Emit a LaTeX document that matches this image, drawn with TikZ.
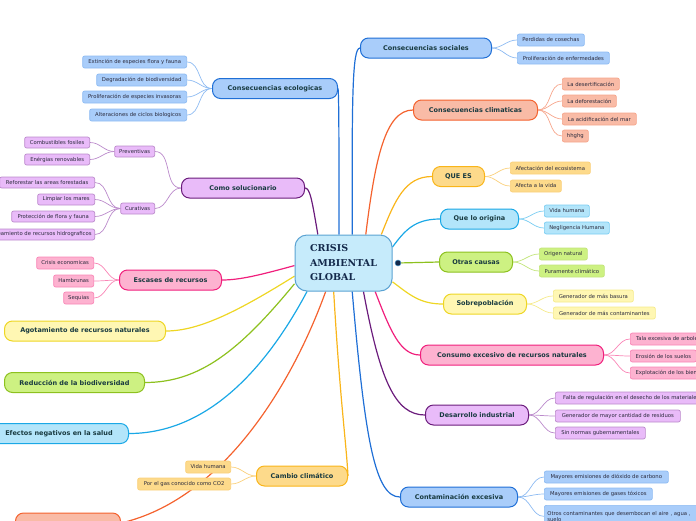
\documentclass[tikz,border=0pt]{standalone}
\usepackage{fontspec}
\setmainfont{DejaVu Sans}
\newfontfamily\titlefont{DejaVu Serif}
\usetikzlibrary{backgrounds}
\definecolor{blueF}{HTML}{A9CDFA}\definecolor{blueD}{HTML}{1F6FD6}\definecolor{blueL}{HTML}{8DBBF2}
\definecolor{salF}{HTML}{F9BBA6}\definecolor{salD}{HTML}{F4622E}\definecolor{salL}{HTML}{F6A58B}
\definecolor{orF}{HTML}{FDDA8B}\definecolor{orD}{HTML}{F9B51A}\definecolor{orL}{HTML}{FAD07A}
\definecolor{skyF}{HTML}{B3E5FA}\definecolor{skyD}{HTML}{1AA8E6}\definecolor{skyL}{HTML}{7ACDF2}
\definecolor{grF}{HTML}{CDF182}\definecolor{grD}{HTML}{8DC11F}\definecolor{grL}{HTML}{C2E47A}
\definecolor{yeF}{HTML}{FFF7B3}\definecolor{yeD}{HTML}{EED624}\definecolor{yeL}{HTML}{F5EA8A}
\definecolor{pkF}{HTML}{FDB2D0}\definecolor{pkD}{HTML}{F01F7C}\definecolor{pkL}{HTML}{F985B6}
\definecolor{puF}{HTML}{E9BBF9}\definecolor{puD}{HTML}{6B1C7C}\definecolor{puL}{HTML}{BB8ACB}
\definecolor{cenF}{HTML}{C6EBFB}\definecolor{cenD}{HTML}{5BA3D3}
\definecolor{maintext}{HTML}{183A40}\definecolor{leaftext}{HTML}{2A2A3C}\definecolor{titletext}{HTML}{13294B}
\tikzset{
  mainbox/.style 2 args={fill=#1, draw=#2, line width=1pt, rounded corners=8pt, minimum height=20pt, inner sep=0pt, font=\bfseries\fontsize{6.5}{8}\selectfont, text=maintext},
  leafbox/.style 2 args={fill=#1, draw=#2, line width=0.7pt, rounded corners=2pt, minimum height=12pt, inner sep=0pt, font=\fontsize{5.3}{6.3}\selectfont, text=leaftext},
  mainlink/.style={line width=1.2pt, draw=#1},
  leaflink/.style={line width=0.7pt, draw=#1},
}
\begin{document}
\begin{tikzpicture}[x=1pt,y=-1pt]
\useasboundingbox (0,0) rectangle (696,520);
% centre
\node[fill=cenF, draw=cenD, line width=1pt, rounded corners=12pt, minimum width=97pt, minimum height=56pt, inner sep=0pt,
      align=left, font=\titlefont\bfseries\fontsize{9.5}{14.5}\selectfont, text=titletext] (c) at (343.5,263) {CRISIS\\AMBIENTAL\\GLOBAL};
\node[circle, fill=titletext, draw=cenD, line width=0.5pt, minimum size=6pt, inner sep=0pt] (icon) at (398,263) {};
% right main
\node[mainbox={blueF}{blueD}, anchor=west, minimum width=131pt] (soc) at (360,48) {Consecuencias sociales};
\node[mainbox={salF}{salD}, anchor=west, minimum width=124pt] (clim) at (413,110) {Consecuencias climaticas};
\node[mainbox={orF}{orD}, anchor=west, minimum width=52pt] (quees) at (432,176.5) {QUE ES};
\node[mainbox={skyF}{skyD}, anchor=west, minimum width=78pt] (orig) at (440,219) {Que lo origina};
\node[mainbox={grF}{grD}, anchor=west, minimum width=73pt] (otras) at (439,262) {Otras causas};
\node[mainbox={yeF}{yeD}, anchor=west, minimum width=83pt] (sobre) at (443,304) {Sobrepoblación};
\node[mainbox={pkF}{pkD}, anchor=west, minimum width=183pt] (consumo) at (420,355) {Consumo excesivo de recursos naturales};
\node[mainbox={puF}{puD}, anchor=west, minimum width=103pt] (desa) at (425,415) {Desarrollo industrial};
\node[mainbox={blueF}{blueD}, anchor=west, minimum width=117pt] (conta) at (400,497) {Contaminación excesiva};
% left main
\node[mainbox={blueF}{blueD}, anchor=east, minimum width=125pt] (eco) at (338,88.5) {Consecuencias ecologicas};
\node[mainbox={puF}{puD}, anchor=east, minimum width=123pt] (como) at (305,188) {Como solucionario};
\node[mainbox={pkF}{pkD}, anchor=east, minimum width=102pt] (esc) at (222,280) {Escases de recursos};
\node[mainbox={yeF}{yeD}, anchor=east, minimum width=161pt] (agot) at (166,331) {Agotamiento de recursos naturales};
\node[mainbox={grF}{grD}, anchor=east, minimum width=140pt] (redu) at (145,382.5) {Reducción de la biodiversidad};
\node[mainbox={skyF}{skyD}, anchor=east, minimum width=139pt] (efec) at (129,433.5) {Efectos negativos en la salud};
\node[mainbox={orF}{orD}, anchor=east, minimum width=91pt] (camb) at (348,476) {Cambio climático};
\node[mainbox={salF}{salD}, anchor=east, minimum width=105pt] (bl) at (121,523) {};
% right leaves
\node[leafbox={blueF}{blueL}, anchor=west, minimum width=67pt] (soc1) at (517,40) {Perdidas de cosechas};
\node[leafbox={blueF}{blueL}, anchor=west, minimum width=92pt] (soc2) at (517,58) {Proliferación de enfermedades};
\node[leafbox={salF}{salL}, anchor=west, minimum width=57pt] (clim1) at (562,84) {La desertificación};
\node[leafbox={salF}{salL}, anchor=west, minimum width=54pt] (clim2) at (562,101) {La deforestación};
\node[leafbox={salF}{salL}, anchor=west, minimum width=74pt] (clim3) at (562,119) {La acidificación del mar};
\node[leafbox={salF}{salL}, anchor=west, minimum width=26pt] (clim4) at (562,136) {hhghg};
\node[leafbox={orF}{orL}, anchor=west, minimum width=80pt] (qe1) at (510,168) {Afectación del ecosistema};
\node[leafbox={orF}{orL}, anchor=west, minimum width=51pt] (qe2) at (510,186) {Afecta a la vida};
\node[leafbox={skyF}{skyL}, anchor=west, minimum width=45pt] (or1) at (544,211) {Vida humana};
\node[leafbox={skyF}{skyL}, anchor=west, minimum width=65pt] (or2) at (544,228) {Negligencia Humana};
\node[leafbox={grF}{grL}, anchor=west, minimum width=48pt] (ot1) at (539,254) {Origen natural};
\node[leafbox={grF}{grL}, anchor=west, minimum width=65pt] (ot2) at (539,271) {Puramente climático};
\node[leafbox={yeF}{yeL}, anchor=west, minimum width=80pt] (so1) at (553,296) {Generador de más basura};
\node[leafbox={yeF}{yeL}, anchor=west, minimum width=102pt] (so2) at (553,313) {Generador de más contaminantes};
\node[leafbox={pkF}{pkL}, anchor=west, minimum width=76pt] (cn1) at (630,339) {Tala excesiva de arboles};
\node[leafbox={pkF}{pkL}, anchor=west, minimum width=66pt] (cn2) at (630,356) {Erosión de los suelos};
\node[leafbox={pkF}{pkL}, anchor=west, minimum width=78pt] (cn3) at (630,373) {Explotación de los bienes};
\node[leafbox={puF}{puL}, anchor=west, minimum width=152pt] (de1) at (555,398) {Falta de regulación en el desecho de los materiales};
\node[leafbox={puF}{puL}, anchor=west, minimum width=125pt] (de2) at (555,416) {Generador de mayor cantidad de residuos};
\node[leafbox={puF}{puL}, anchor=west, minimum width=90pt] (de3) at (555,433) {Sin normas gubernamentales};
\node[leafbox={blueF}{blueL}, anchor=west, minimum width=124pt] (co1) at (544,477) {Mayores emisiones de dióxido de carbono};
\node[leafbox={blueF}{blueL}, anchor=west, minimum width=108pt] (co2) at (544,494) {Mayores emisiones de gases tóxicos};
\node[leafbox={blueF}{blueL}, anchor=north west, minimum width=160pt, minimum height=22pt, align=left, text width=154pt, inner xsep=3pt, inner ysep=2pt] (co3) at (544,505) {Otros contaminantes que desembocan el aire , agua ,\\suelo};
% left leaves
\node[leafbox={blueF}{blueL}, anchor=east, minimum width=104pt] (eco1) at (187,62) {Extinción de especies flora y fauna};
\node[leafbox={blueF}{blueL}, anchor=east, minimum width=90pt] (eco2) at (187,80) {Degradación de biodiversidad};
\node[leafbox={blueF}{blueL}, anchor=east, minimum width=104pt] (eco3) at (187,97) {Proliferación de especies invasoras};
\node[leafbox={blueF}{blueL}, anchor=east, minimum width=97pt] (eco4) at (187,115) {Alteraciones de ciclos biologicos};
\node[leafbox={puF}{puL}, anchor=east, minimum width=40pt, minimum height=11pt] (prev) at (155,151.5) {Preventivas};
\node[leafbox={puF}{puL}, anchor=east, minimum width=34pt, minimum height=11pt] (cura) at (155,208.5) {Curativas};
\node[leafbox={puF}{puL}, anchor=east, minimum width=65pt, minimum height=11pt] (pr1) at (90,142.5) {Combustibles fosiles};
\node[leafbox={puF}{puL}, anchor=east, minimum width=65pt, minimum height=11pt] (pr2) at (90,159.5) {Enérgias renovables};
\node[leafbox={puF}{puL}, anchor=east, minimum width=95pt, minimum height=11pt] (cu1) at (95,182.5) {Reforestar las areas forestadas};
\node[leafbox={puF}{puL}, anchor=east, minimum width=57pt, minimum height=11pt] (cu2) at (95,199.5) {Limpiar los mares};
\node[leafbox={puF}{puL}, anchor=east, minimum width=83pt, minimum height=11pt] (cu3) at (95,216.5) {Protección de flora y fauna};
\node[leafbox={puF}{puL}, anchor=east, minimum width=110pt, minimum height=11pt] (cu4) at (95,234.5) {Saneamiento de recursos hidrograficos};
\node[leafbox={pkF}{pkL}, anchor=east, minimum width=57pt] (es1) at (94,263) {Crisis economicas};
\node[leafbox={pkF}{pkL}, anchor=east, minimum width=40pt] (es2) at (94,281) {Hambrunas};
\node[leafbox={pkF}{pkL}, anchor=east, minimum width=30pt] (es3) at (94,298) {Sequias};
\node[leafbox={orF}{orL}, anchor=east, minimum width=45pt] (ca1) at (231,467) {Vida humana};
\node[leafbox={orF}{orL}, anchor=east, minimum width=93pt] (ca2) at (231,484) {Por el gas conocido como CO2};
\begin{pgfonlayer}{background}
% main links
\draw[mainlink=blueD] (c.73) .. controls (352,100) and (352,48) .. (soc.west);
\draw[mainlink=blueD] (c.99) .. controls (339,150) and (339,95) .. (eco.east);
\draw[mainlink=salD] (c.52) .. controls (375,160) and (385,110) .. (clim.west);
\draw[mainlink=orD] (c.37) .. controls (395,200) and (405,176.5) .. (quees.west);
\draw[mainlink=skyD] (c.18) .. controls (405,230) and (415,219) .. (orig.west);
\draw[mainlink=grD] (icon) -- (otras.west);
\draw[mainlink=yeD] (c.-21) .. controls (410,295) and (420,304) .. (sobre.west);
\draw[mainlink=pkD] (c.-42) .. controls (390,330) and (400,355) .. (consumo.west);
\draw[mainlink=puD] (c.-55) .. controls (380,380) and (395,415) .. (desa.west);
\draw[mainlink=blueD] (c.-73) .. controls (365,440) and (375,497) .. (conta.west);
\draw[mainlink=orD] (c.251) .. controls (340,400) and (346,440) .. (camb.east);
\draw[mainlink=salD] (c.238) .. controls (290,390) and (220,500) .. (bl.east);
\draw[mainlink=skyD] (c.218) .. controls (260,380) and (200,433.5) .. (efec.east);
\draw[mainlink=grD] (c.203) .. controls (240,350) and (200,382.5) .. (redu.east);
\draw[mainlink=yeD] (c.195) .. controls (240,310) and (200,331) .. (agot.east);
\draw[mainlink=pkD] (c.183) .. controls (260,275) and (240,280) .. (esc.east);
\draw[mainlink=puD] (c.132) .. controls (312,200) and (310,188) .. (como.east);
% right leaf links
\foreach \p/\k/\col in {soc/soc1/blueL, soc/soc2/blueL, clim/clim1/salL, clim/clim2/salL, clim/clim3/salL, clim/clim4/salL,
  quees/qe1/orL, quees/qe2/orL, orig/or1/skyL, orig/or2/skyL, otras/ot1/grL, otras/ot2/grL, sobre/so1/yeL, sobre/so2/yeL,
  consumo/cn1/pkL, consumo/cn2/pkL, consumo/cn3/pkL, desa/de1/puL, desa/de2/puL, desa/de3/puL, conta/co1/blueL, conta/co2/blueL, conta/co3/blueL}
  \draw[leaflink=\col] (\p.east) to[out=0,in=180] (\k.west);
% left leaf links
\foreach \p/\k/\col in {eco/eco1/blueL, eco/eco2/blueL, eco/eco3/blueL, eco/eco4/blueL, como/prev/puL, como/cura/puL,
  prev/pr1/puL, prev/pr2/puL, cura/cu1/puL, cura/cu2/puL, cura/cu3/puL, cura/cu4/puL, esc/es1/pkL, esc/es2/pkL, esc/es3/pkL,
  camb/ca1/orL, camb/ca2/orL}
  \draw[leaflink=\col] (\p.west) to[out=180,in=0] (\k.east);
\end{pgfonlayer}
\end{tikzpicture}
\end{document}
